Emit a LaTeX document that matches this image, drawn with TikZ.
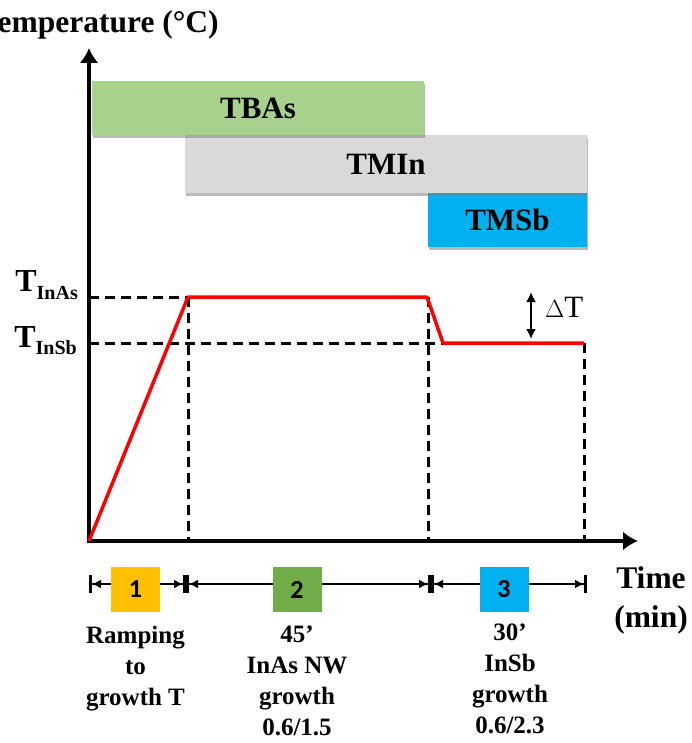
\documentclass[tikz,border=0pt]{standalone}
\usepackage{fontspec}
\setmainfont{Liberation Serif}
\newfontfamily\calibrifont{Carlito}
\usepackage{tikz}
\usetikzlibrary{arrows.meta,calc,positioning,shadows}
\definecolor{tbagreen}{HTML}{A9D18E}
\definecolor{tmigrey}{HTML}{D9D9D9}
\definecolor{tmsblue}{HTML}{00B0F0}
\definecolor{stageyellow}{HTML}{FFC000}
\definecolor{stagegreen}{HTML}{70AD47}
\definecolor{profred}{HTML}{FF0000}
\tikzset{%
	gasbox/.style    = {rectangle, inner sep=0pt, font=\bfseries\fontsize{31}{31}\selectfont, drop shadow={shadow xshift=1pt, shadow yshift=-3pt, fill=black!50, opacity=.55}},
	stagebox/.style  = {rectangle, minimum width=49pt, minimum height=45pt, inner sep=0pt, font=\calibrifont\bfseries\fontsize{26}{26}\selectfont},
	stagetext/.style = {align=center, inner sep=0pt, anchor=north, font=\bfseries\fontsize{25}{31}\selectfont},
	biglabel/.style  = {inner sep=0pt, font=\bfseries\fontsize{31.5}{39}\selectfont},
	profile/.style   = {line width=3.5pt, color=profred, line join=round},
	guide/.style     = {line width=3pt, dash pattern=on 10pt off 6pt},
	axis/.style      = {line width=3.5pt, -{Latex[length=15pt,width=19pt]}},
	span/.style      = {line width=2pt, {Bar[width=18pt,line width=3pt]Latex[length=9pt,width=9pt]}-{Latex[length=9pt,width=9pt]Bar[width=18pt,line width=3pt]}},
}
\begin{document}
\begin{tikzpicture}[x=1pt,y=-1pt]
	\useasboundingbox (0,0) rectangle (692,743);
	\clip (0,0) rectangle (692,743);
	% precursor bars
	\node[gasbox, fill=tmsblue, minimum width=159pt, minimum height=54pt] (tmsb) at (507.5,220) {TMSb};
	\node[gasbox, fill=tmigrey, minimum width=402pt, minimum height=58pt] (tmin) at (386,164) {TMIn\hspace{12pt}};
	\node[gasbox, fill=tbagreen, minimum width=332pt, minimum height=54pt] (tbas) at (258,108) {TBAs};
	% axes
	\coordinate (o) at (89,541);
	\coordinate (ytop) at (89,48);
	\coordinate (xend) at (638,541);
	\draw[axis] (89,543) -- (ytop);
	\draw[axis] (87,541) -- (xend);
	\node[biglabel, anchor=base west] (ylab) at (-20.7,33) {Temperature (°C)};
	\node[biglabel, anchor=north, align=center] (xlab) at (651,566) {Time\\(min)};
	% temperature profile
	\coordinate (a) at (188,297);
	\coordinate (b) at (427,297);
	\coordinate (c) at (443,343);
	\coordinate (d) at (584,343);
	\draw[guide] (89,297) -- (a);
	\draw[guide] (89,343) -- (c);
	\draw[guide] (a) -- (a |- o);
	\draw[guide] (428,297) -- (428,541);
	\draw[guide] (d) -- (d |- o);
	\draw[profile] (o) -- (a) -- (b) -- (c) -- (d);
	\node[inner sep=0pt, anchor=base east] (tinas) at (78,291) {\bfseries\fontsize{32}{32}\selectfont T\raisebox{-8pt}{\fontsize{20}{20}\selectfont InAs}};
	\node[inner sep=0pt, anchor=base east] (tinsb) at (77,347) {\bfseries\fontsize{32}{32}\selectfont T\raisebox{-7pt}{\fontsize{20}{20}\selectfont InSb}};
	% temperature step
	\coordinate (dtup) at (531,292);
	\coordinate (dtdown) at (531,339);
	\draw[line width=2pt, {Latex[length=10pt,width=10pt]}-{Latex[length=10pt,width=10pt]}] (dtup) -- (dtdown);
	\node[inner sep=0pt, anchor=base west, font=\fontsize{31}{31}\selectfont] (dt) at (545,317) {$\Delta$T};
	% growth stages
	\coordinate (s0) at (89,584);
	\coordinate (s1) at (186,584);
	\coordinate (s2) at (431,584);
	\coordinate (s3) at (587,584);
	\draw[span] (s0) -- (s1);
	\draw[span] (s1) -- (s2);
	\draw[span] (s2) -- (s3);
	\node[stagebox, fill=stageyellow] (st1) at (135.5,589.5) {1};
	\node[stagebox, fill=stagegreen] (st2) at (297,589.5) {2};
	\node[stagebox, fill=tmsblue] (st3) at (504,589) {3};
	\node[stagetext] (txt1) at (135.5,626) {Ramping\\to\\growth T};
	\node[stagetext] (txt2) at (297,626) {45’\\InAs NW\\growth\\0.6/1.5};
	\node[stagetext] (txt3) at (510,624) {30’\\InSb\\growth\\0.6/2.3};
\end{tikzpicture}
\end{document}
